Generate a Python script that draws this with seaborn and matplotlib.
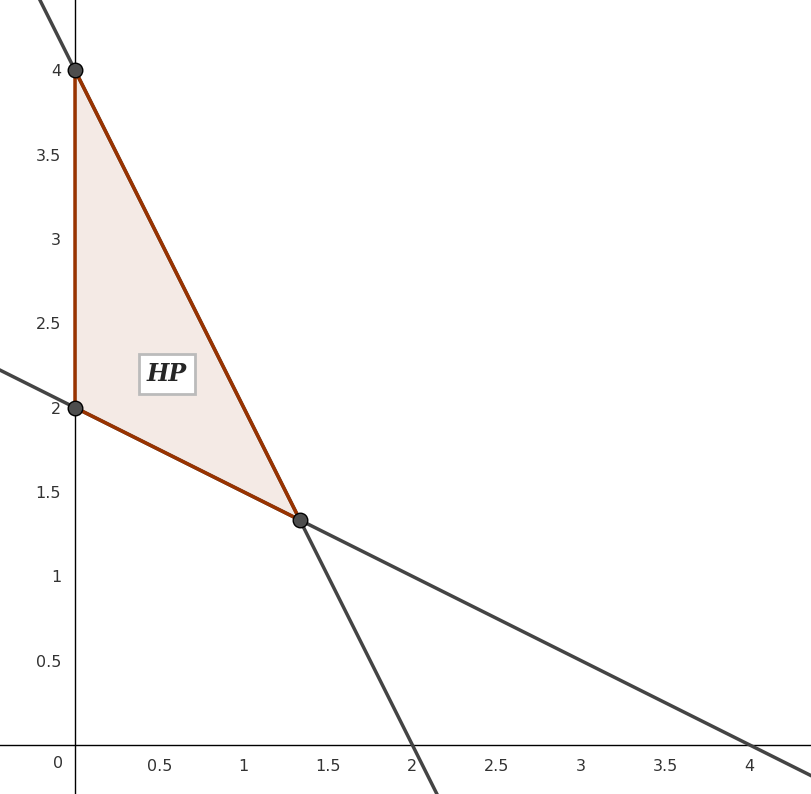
import numpy as np
import pandas as pd
import seaborn as sns
import matplotlib.pyplot as plt

# line endpoints (x values) for y = 4 - 2x and y = 2 - x/2
line1_x = [-0.5, 2.5]
line1_y = [5.0, -1.0]
line2_x = [-0.5, 4.5]
line2_y = [2.25, -0.25]

# region vertices
poly_x = [0, 0, 4 / 3]
poly_y = [4, 2, 4 / 3]

x_ticks = [0.5, 1, 1.5, 2, 2.5, 3, 3.5, 4]
y_ticks = [0.5, 1, 1.5, 2, 2.5, 3, 3.5, 4]

sns.set_style("white")
plt.rcParams['font.family'] = ['DejaVu Sans']

fig = plt.figure(figsize=(8.12, 7.94), dpi=100)
ax = fig.add_axes([0, 0, 1, 1])

xmin, xmax = -75 / 168.7, (812 - 75) / 168.7
ymin, ymax = -49 / 168.7, 745 / 168.7
ax.set_xlim(xmin, xmax)
ax.set_ylim(ymin, ymax)

lines = pd.DataFrame({"x": line1_x + line2_x, "y": line1_y + line2_y,
                      "id": ["a", "a", "b", "b"]})
sns.lineplot(data=lines, x="x", y="y", units="id", estimator=None,
             color="#444444", lw=2.5, ax=ax, sort=False)

brown = "#993300"
ax.fill(poly_x, poly_y, facecolor=brown, alpha=0.1, edgecolor="none", zorder=3)
ax.fill(poly_x, poly_y, facecolor="none", edgecolor=brown, lw=2.5, zorder=4)

sns.scatterplot(x=poly_x, y=poly_y, s=110, color="#4d4d4d", edgecolor="black",
                linewidth=1, ax=ax, zorder=5)

ax.text(0.545, 2.2, r"$\boldsymbol{HP}$" if False else "HP", fontsize=17,
        fontweight="bold", fontstyle="italic", family="DejaVu Serif",
        ha="center", va="center", zorder=6,
        bbox=dict(boxstyle="square,pad=0.35", fc="white", ec="#bbbbbb", lw=2))

for s in ["top", "right"]:
    ax.spines[s].set_visible(False)
ax.spines["left"].set_position(("data", 0))
ax.spines["bottom"].set_position(("data", 0))
for s in ["left", "bottom"]:
    ax.spines[s].set_color("black")
    ax.spines[s].set_linewidth(1)
    ax.spines[s].set_zorder(1)

ax.set_xticks(x_ticks)
ax.set_xticklabels([f"{t:g}" for t in x_ticks])
ax.set_yticks(y_ticks)
ax.set_yticklabels([f"{t:g}" for t in y_ticks])
ax.tick_params(length=0, labelsize=11.5, colors="#333333", pad=10)
ax.text(-0.1, -0.11, "0", fontsize=11.5, color="#333333", ha="center", va="center")
ax.set_xlabel("")
ax.set_ylabel("")

fig.savefig("out.png", dpi=100)
